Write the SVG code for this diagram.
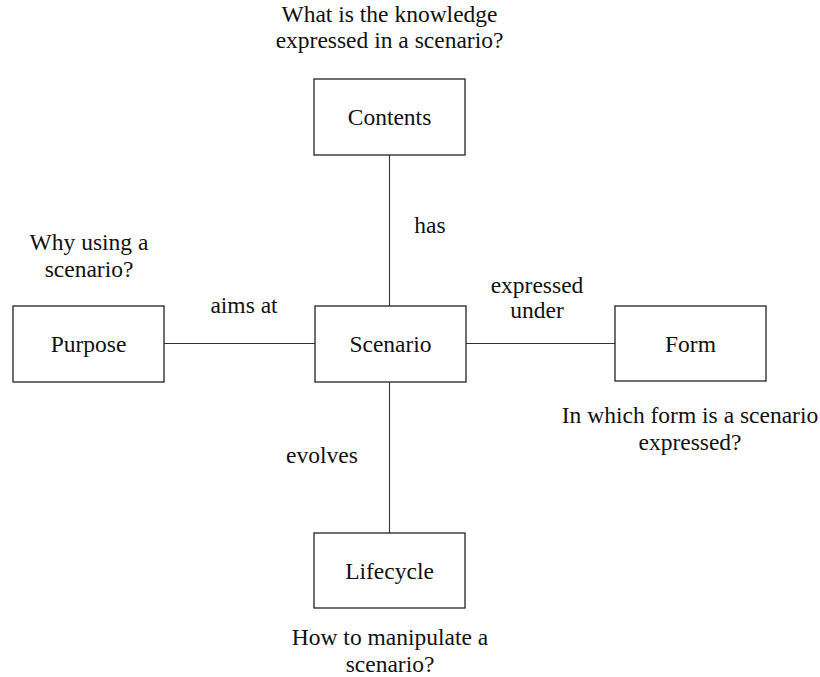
<svg xmlns="http://www.w3.org/2000/svg" width="820" height="677" viewBox="0 0 820 677" font-family="'Liberation Serif', 'DejaVu Serif', 'Times New Roman', serif">
  <style>
    .box { fill: #ffffff; stroke: #222222; stroke-width: 1.3; }
    .edge { stroke: #333333; stroke-width: 1.1; fill: none; }
    .t { font-family: 'Liberation Serif', 'DejaVu Serif', 'Times New Roman', serif; font-size: 23.5px; fill: #111111; text-anchor: middle; }
  </style>
  <rect width="820" height="677" fill="#ffffff"/>

  <!-- connectors between Scenario and its four facets -->
  <g id="connectors">
    <line class="edge" x1="389.5" y1="155" x2="389.5" y2="306"/>
    <line class="edge" x1="389.5" y1="382" x2="389.5" y2="533"/>
    <line class="edge" x1="164" y1="343.5" x2="315" y2="343.5"/>
    <line class="edge" x1="466" y1="343.5" x2="615" y2="343.5"/>
    <text class="t" x="430" y="233">has</text>
    <text class="t" x="244" y="313">aims at</text>
    <text class="t" x="537" y="293">expressed</text>
    <text class="t" x="537" y="318">under</text>
    <text class="t" x="322" y="463">evolves</text>
  </g>

  <g id="scenario">
    <rect class="box" x="315" y="306" width="151" height="76"/>
    <text class="t" x="390.5" y="352">Scenario</text>
  </g>

  <g id="contents">
    <rect class="box" x="314" y="79" width="151" height="76"/>
    <text class="t" x="389.5" y="125">Contents</text>
    <text class="t" x="389.5" y="22">What is the knowledge</text>
    <text class="t" x="389.5" y="48">expressed in a scenario?</text>
  </g>

  <g id="purpose">
    <rect class="box" x="13" y="306" width="151" height="76"/>
    <text class="t" x="88.5" y="352">Purpose</text>
    <text class="t" x="89" y="250">Why using a</text>
    <text class="t" x="89" y="277">scenario?</text>
  </g>

  <g id="form">
    <rect class="box" x="615" y="306" width="151" height="75"/>
    <text class="t" x="690.5" y="352">Form</text>
    <text class="t" x="690" y="423">In which form is a scenario</text>
    <text class="t" x="690" y="450">expressed?</text>
  </g>

  <g id="lifecycle">
    <rect class="box" x="314" y="533" width="151" height="75"/>
    <text class="t" x="389.5" y="579">Lifecycle</text>
    <text class="t" x="390" y="645">How to manipulate a</text>
    <text class="t" x="390" y="672">scenario?</text>
  </g>
</svg>
